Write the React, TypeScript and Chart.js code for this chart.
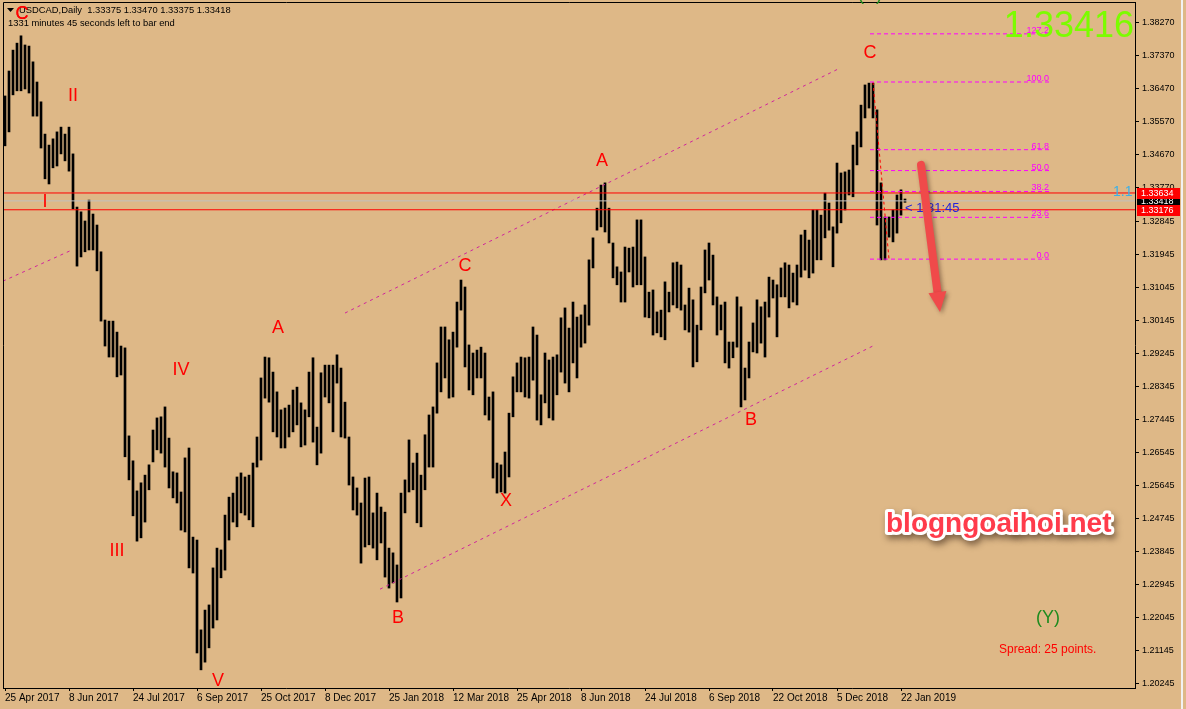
import React, { useEffect, useRef } from 'react';
import { Chart, registerables } from 'chart.js';

Chart.register(...registerables);

// ---------------- data ----------------
// each bar = two trading days (high / low), USDCAD daily, Apr 2017 - Jan 2019
const dateLabels = [
  '25 Apr 2017', '8 Jun 2017', '24 Jul 2017', '6 Sep 2017', '25 Oct 2017', '8 Dec 2017',
  '25 Jan 2018', '12 Mar 2018', '25 Apr 2018', '8 Jun 2018', '24 Jul 2018', '6 Sep 2018',
  '22 Oct 2018', '5 Dec 2018', '22 Jan 2019',
];
const barsPerLabel = 16;

const highs = [
  1.3628, 1.3696, 1.3753, 1.3772, 1.3792, 1.3767, 1.3764, 1.3721, 1.3666, 1.3612,
  1.3524, 1.3494, 1.3511, 1.3530, 1.3543, 1.3524, 1.3543, 1.3470, 1.3325, 1.3312,
  1.3287, 1.3344, 1.3306, 1.3276, 1.3203, 1.3017, 1.3014, 1.3014, 1.2984, 1.2946,
  1.2941, 1.2701, 1.2633, 1.2551, 1.2573, 1.2594, 1.2622, 1.2717, 1.2750, 1.2753,
  1.2780, 1.2695, 1.2603, 1.2600, 1.2548, 1.2641, 1.2668, 1.2425, 1.2417, 1.2172,
  1.2226, 1.2240, 1.2341, 1.2395, 1.2390, 1.2485, 1.2534, 1.2545, 1.2589, 1.2600,
  1.2589, 1.2594, 1.2627, 1.2698, 1.2859, 1.2916, 1.2914, 1.2875, 1.2821, 1.2772,
  1.2777, 1.2785, 1.2826, 1.2834, 1.2791, 1.2772, 1.2875, 1.2914, 1.2725, 1.2873,
  1.2894, 1.2894, 1.2894, 1.2922, 1.2886, 1.2793, 1.2698, 1.2589, 1.2559, 1.2518,
  1.2586, 1.2589, 1.2491, 1.2545, 1.2507, 1.2493, 1.2395, 1.2382, 1.2349, 1.2545,
  1.2581, 1.2690, 1.2627, 1.2654, 1.2594, 1.2704, 1.2758, 1.2780, 1.2900, 1.2998,
  1.2998, 1.2963, 1.2984, 1.3066, 1.3126, 1.3107, 1.2949, 1.2927, 1.2935, 1.2943,
  1.2927, 1.2807, 1.2821, 1.2627, 1.2622, 1.2657, 1.2763, 1.2862, 1.2900, 1.2916,
  1.2914, 1.2916, 1.2998, 1.2976, 1.2813, 1.2927, 1.2908, 1.2916, 1.2922, 1.3023,
  1.3050, 1.2995, 1.3066, 1.3025, 1.3031, 1.3058, 1.3181, 1.3241, 1.3322, 1.3385,
  1.3391, 1.3322, 1.3227, 1.3162, 1.3148, 1.3216, 1.3213, 1.3216, 1.3290, 1.3290,
  1.3189, 1.3093, 1.3099, 1.3039, 1.3044, 1.3121, 1.3093, 1.3173, 1.3175, 1.3167,
  1.3058, 1.3104, 1.3072, 1.3003, 1.3107, 1.3208, 1.3227, 1.3194, 1.3080, 1.3058,
  1.3066, 1.2957, 1.2957, 1.3080, 1.3053, 1.2886, 1.2957, 1.3009, 1.3072, 1.3053,
  1.3066, 1.3134, 1.3126, 1.3113, 1.3159, 1.3173, 1.3167, 1.3145, 1.3167, 1.3249,
  1.3262, 1.3235, 1.3317, 1.3317, 1.3303, 1.3363, 1.3336, 1.3271, 1.3445, 1.3418,
  1.3421, 1.3426, 1.3494, 1.3530, 1.3603, 1.3658, 1.3663, 1.3663, 1.3590, 1.3391,
  1.3298, 1.3298, 1.3317, 1.3358, 1.3372, 1.3347,
];

const lows = [
  1.3492, 1.3530, 1.3631, 1.3642, 1.3642, 1.3647, 1.3636, 1.3573, 1.3573, 1.3486,
  1.3402, 1.3388, 1.3432, 1.3437, 1.3470, 1.3451, 1.3423, 1.3320, 1.3164, 1.3189,
  1.3203, 1.3208, 1.3208, 1.3151, 1.3014, 1.2946, 1.2916, 1.2916, 1.2862, 1.2867,
  1.2644, 1.2581, 1.2483, 1.2414, 1.2423, 1.2466, 1.2554, 1.2630, 1.2663, 1.2654,
  1.2616, 1.2559, 1.2532, 1.2518, 1.2444, 1.2439, 1.2341, 1.2327, 1.2109, 1.2063,
  1.2084, 1.2123, 1.2177, 1.2199, 1.2314, 1.2335, 1.2417, 1.2466, 1.2453, 1.2491,
  1.2485, 1.2472, 1.2453, 1.2616, 1.2635, 1.2804, 1.2793, 1.2712, 1.2698, 1.2668,
  1.2668, 1.2698, 1.2712, 1.2731, 1.2671, 1.2676, 1.2753, 1.2684, 1.2622, 1.2654,
  1.2807, 1.2791, 1.2712, 1.2845, 1.2698, 1.2695, 1.2567, 1.2499, 1.2485, 1.2354,
  1.2398, 1.2404, 1.2395, 1.2363, 1.2409, 1.2316, 1.2286, 1.2300, 1.2248, 1.2259,
  1.2491, 1.2548, 1.2554, 1.2464, 1.2453, 1.2554, 1.2616, 1.2616, 1.2763, 1.2821,
  1.2859, 1.2804, 1.2807, 1.2943, 1.3044, 1.2889, 1.2826, 1.2813, 1.2859, 1.2859,
  1.2758, 1.2744, 1.2586, 1.2545, 1.2548, 1.2545, 1.2589, 1.2753, 1.2821, 1.2821,
  1.2807, 1.2804, 1.2853, 1.2744, 1.2731, 1.2791, 1.2750, 1.2744, 1.2813, 1.2875,
  1.2845, 1.2821, 1.2900, 1.2859, 1.2943, 1.2954, 1.3003, 1.3159, 1.3262, 1.3271,
  1.3257, 1.3227, 1.3132, 1.3113, 1.3066, 1.3066, 1.3148, 1.3107, 1.3113, 1.3113,
  1.3025, 1.3023, 1.2976, 1.2982, 1.2971, 1.2963, 1.3039, 1.3058, 1.3050, 1.3044,
  1.2990, 1.2984, 1.2889, 1.2903, 1.2990, 1.3091, 1.3126, 1.3058, 1.2976, 1.2990,
  1.2900, 1.2886, 1.2914, 1.2943, 1.2780, 1.2799, 1.2859, 1.2930, 1.2927, 1.2954,
  1.2916, 1.3025, 1.3077, 1.2971, 1.3080, 1.3080, 1.3050, 1.3066, 1.3058, 1.3134,
  1.3153, 1.3132, 1.3145, 1.3181, 1.3181, 1.3241, 1.3262, 1.3162, 1.3254, 1.3282,
  1.3317, 1.3358, 1.3353, 1.3440, 1.3489, 1.3568, 1.3595, 1.3568, 1.3276, 1.3181,
  1.3181, 1.3243, 1.3230, 1.3254, 1.3303, 1.3338,
];

const priceTicks = [
  1.3827, 1.3737, 1.3647, 1.3557, 1.3467, 1.3377, 1.32845, 1.31945, 1.31045, 1.30145,
  1.29245, 1.28345, 1.27445, 1.26545, 1.25645, 1.24745, 1.23845, 1.22945, 1.22045,
  1.21145, 1.20245,
];
const yMin = 1.20135;
const yMax = 1.38842;
const xMin = -0.5;
const xMax = 282.5;

const resistanceLevel = 1.33634;
const supportLevel = 1.33176;
const bidLevel = 1.33418;

const fibHigh = 1.3666;
const fibLow = 1.3183;
const fibLevels = [0, 23.6, 38.2, 50, 61.8, 100, 127.2];
const fibLabels = ['0.0', '23.6', '38.2', '50.0', '61.8', '100.0', '127.2'];
const fibStart = 216.25;
const fibEnd = 261;
const fibTrend = [{ x: 217, y: fibHigh }, { x: 221, y: fibLow }];

const channelUpper = [{ x: 85, y: 1.3036 }, { x: 208.75, y: 1.3704 }];
const channelLower = [{ x: 93.75, y: 1.2283 }, { x: 217.5, y: 1.2949 }];
const channelLeft = [{ x: -0.5, y: 1.3123 }, { x: 16.75, y: 1.3208 }];

const waveLabels = [
  { t: 'C', x: 4.25, y: 1.3852 },
  { t: 'II', x: 17, y: 1.3628 },
  { t: 'I', x: 10, y: 1.3339 },
  { t: 'III', x: 28, y: 1.2387 },
  { t: 'IV', x: 44, y: 1.2881 },
  { t: 'V', x: 53.25, y: 1.2033 },
  { t: 'A', x: 68.25, y: 1.2995 },
  { t: 'C', x: 115, y: 1.3164 },
  { t: 'B', x: 98.25, y: 1.2204 },
  { t: 'X', x: 125.25, y: 1.2524 },
  { t: 'A', x: 149.25, y: 1.3451 },
  { t: 'B', x: 186.5, y: 1.2744 },
  { t: 'C', x: 216.25, y: 1.3745 },
];

const arrowFrom = { x: 229, y: 1.344 };
const arrowTo = { x: 233.75, y: 1.3039 };

const BG = '#DEB887';
const FONT = '"Liberation Sans", Arial, sans-serif';

function lineDs(data: { x: number; y: number }[], color: string, dash: number[]) {
  return {
    type: 'line' as const,
    data,
    borderColor: color,
    borderWidth: 1,
    borderDash: dash,
    pointRadius: 0,
    fill: false,
    tension: 0,
    order: 0,
  };
}

const overlayPlugin = {
  id: 'mtOverlay',
  beforeDraw(chart: any) {
    const ctx = chart.ctx;
    ctx.save();
    ctx.fillStyle = BG;
    ctx.fillRect(0, 0, chart.width, chart.height);
    ctx.restore();
  },
  afterDraw(chart: any) {
    const ctx: CanvasRenderingContext2D = chart.ctx;
    const xs = chart.scales.x;
    const ys = chart.scales.y;
    const ca = chart.chartArea;
    ctx.save();

    // frame
    ctx.strokeStyle = '#000';
    ctx.lineWidth = 1;
    ctx.beginPath();
    ctx.moveTo(ca.left + 0.5, ca.bottom);
    ctx.lineTo(ca.left + 0.5, ca.top + 0.5);
    ctx.lineTo(ca.right, ca.top + 0.5);
    ctx.stroke();

    // fib labels
    ctx.font = `9px ${FONT}`;
    ctx.fillStyle = '#FF00FF';
    ctx.textAlign = 'right';
    ctx.textBaseline = 'alphabetic';
    fibLevels.forEach((lv, k) => {
      const price = fibLow + (fibHigh - fibLow) * lv / 100;
      const py = ys.getPixelForValue(price);
      ctx.fillText(fibLabels[k], xs.getPixelForValue(fibEnd), py - 1);
    });

    // wave labels
    ctx.font = `18px ${FONT}`;
    ctx.fillStyle = '#FF0000';
    ctx.textAlign = 'center';
    ctx.textBaseline = 'middle';
    waveLabels.forEach((w) => {
      ctx.fillText(w.t, xs.getPixelForValue(w.x), ys.getPixelForValue(w.y));
    });

    // top partial (X)
    ctx.fillStyle = '#1E8B1E';
    ctx.fillText('(X)', 870, -5);

    // header texts
    ctx.fillStyle = '#000';
    ctx.beginPath();
    ctx.moveTo(7, 8);
    ctx.lineTo(14, 8);
    ctx.lineTo(10.5, 12);
    ctx.closePath();
    ctx.fill();
    ctx.font = `9.4px ${FONT}`;
    ctx.textAlign = 'left';
    ctx.textBaseline = 'alphabetic';
    ctx.fillText('USDCAD,Daily  1.33375 1.33470 1.33375 1.33418', 19, 13);
    ctx.fillText('1331 minutes 45 seconds left to bar end', 8, 26);

    // the top-left C sits over the header
    ctx.font = `18px ${FONT}`;
    ctx.fillStyle = '#FF0000';
    ctx.textAlign = 'center';
    ctx.textBaseline = 'middle';
    ctx.fillText('C', xs.getPixelForValue(waveLabels[0].x), ys.getPixelForValue(waveLabels[0].y));

    // big bid price
    ctx.font = `36px ${FONT}`;
    ctx.fillStyle = '#7CFC00';
    ctx.textAlign = 'right';
    ctx.textBaseline = 'alphabetic';
    ctx.fillText('1.33416', 1134, 37);

    // countdown text near last bar
    ctx.font = `13px ${FONT}`;
    ctx.fillStyle = '#2222DD';
    ctx.textAlign = 'left';
    ctx.textBaseline = 'middle';
    ctx.fillText('< 1:31:45', 905, 208);

    // cyan 1.1
    ctx.font = `14px ${FONT}`;
    ctx.fillStyle = '#3AB0EA';
    ctx.fillText('1.1', 1113, 192);

    // arrow
    const ax0 = xs.getPixelForValue(arrowFrom.x);
    const ay0 = ys.getPixelForValue(arrowFrom.y);
    const ax1 = xs.getPixelForValue(arrowTo.x);
    const ay1 = ys.getPixelForValue(arrowTo.y);
    const ang = Math.atan2(ay1 - ay0, ax1 - ax0);
    const headLen = 20;
    const bx = ax1 - headLen * Math.cos(ang);
    const by = ay1 - headLen * Math.sin(ang);
    ctx.save();
    ctx.shadowColor = 'rgba(60,30,20,0.45)';
    ctx.shadowBlur = 4;
    ctx.shadowOffsetX = 2;
    ctx.shadowOffsetY = 2;
    ctx.strokeStyle = '#F04A4A';
    ctx.fillStyle = '#F04A4A';
    ctx.lineWidth = 8;
    ctx.lineCap = 'round';
    ctx.beginPath();
    ctx.moveTo(ax0, ay0);
    ctx.lineTo(bx, by);
    ctx.stroke();
    const px = -Math.sin(ang);
    const py = Math.cos(ang);
    ctx.beginPath();
    ctx.moveTo(ax1, ay1);
    ctx.lineTo(bx + px * 9, by + py * 9);
    ctx.lineTo(bx - px * 9, by - py * 9);
    ctx.closePath();
    ctx.fill();
    ctx.restore();

    // blog watermark
    ctx.save();
    ctx.font = `bold 28px ${FONT}`;
    ctx.textAlign = 'left';
    ctx.textBaseline = 'alphabetic';
    ctx.lineJoin = 'round';
    ctx.shadowColor = 'rgba(40,20,10,0.5)';
    ctx.shadowBlur = 6;
    ctx.shadowOffsetX = 2;
    ctx.shadowOffsetY = 4;
    ctx.strokeStyle = '#FFFFFF';
    ctx.lineWidth = 6;
    ctx.strokeText('blogngoaihoi.net', 886, 532);
    ctx.shadowColor = 'transparent';
    ctx.fillStyle = '#FF3B4B';
    ctx.fillText('blogngoaihoi.net', 886, 532);
    ctx.restore();

    // (Y) and spread
    ctx.font = `18px ${FONT}`;
    ctx.fillStyle = '#1E8B1E';
    ctx.textAlign = 'center';
    ctx.textBaseline = 'middle';
    ctx.fillText('(Y)', 1048, 618);
    ctx.font = `12px ${FONT}`;
    ctx.fillStyle = '#FF0000';
    ctx.textAlign = 'left';
    ctx.textBaseline = 'alphabetic';
    ctx.fillText('Spread: 25 points.', 999, 653);

    // right-axis price markers
    const marker = (price: number, bg: string) => {
      const my = Math.round(ys.getPixelForValue(price));
      ctx.fillStyle = bg;
      ctx.fillRect(ca.right + 2, my - 5, 43, 11);
      ctx.fillStyle = '#FFFFFF';
      ctx.font = `9px ${FONT}`;
      ctx.textAlign = 'left';
      ctx.textBaseline = 'middle';
      ctx.fillText(price.toFixed(5), ca.right + 6, my + 0.5);
    };
    marker(bidLevel, '#000000');
    marker(resistanceLevel, '#FF0000');
    marker(supportLevel, '#FF0000');

    // window edge
    ctx.fillStyle = '#F2F2F2';
    ctx.fillRect(1181, 0, 2, chart.height);

    ctx.restore();
  },
};

export default function App() {
  const ref = useRef<HTMLCanvasElement | null>(null);

  useEffect(() => {
    if (!ref.current) return;
    Chart.defaults.font.family = FONT;
    const bars = highs.map((h, k) => ({ x: k, y: [lows[k], h] }));
    const fibLines = fibLevels.map((lv) => {
      const price = fibLow + (fibHigh - fibLow) * lv / 100;
      return lineDs([{ x: fibStart, y: price }, { x: fibEnd, y: price }], '#FF00FF', [4, 3]);
    });
    const chart = new Chart(ref.current, {
      type: 'bar',
      data: {
        datasets: [
          lineDs([{ x: xMin, y: resistanceLevel }, { x: xMax, y: resistanceLevel }], '#FF0000', []),
          lineDs([{ x: xMin, y: supportLevel }, { x: xMax, y: supportLevel }], '#FF0000', []),
          lineDs([{ x: xMin, y: bidLevel }, { x: xMax, y: bidLevel }], '#C0C0C0', []),
          ...fibLines,
          lineDs(fibTrend, '#FF0000', [3, 3]),
          lineDs(channelUpper, '#D0249C', [3, 4]),
          lineDs(channelLower, '#D0249C', [3, 4]),
          lineDs(channelLeft, '#D0249C', [3, 4]),
          {
            type: 'bar' as const,
            data: bars as any,
            backgroundColor: '#000000',
            borderWidth: 0,
            barThickness: 2,
            grouped: false,
            order: 10,
          },
        ] as any,
      },
      options: {
        animation: false,
        responsive: false,
        devicePixelRatio: 1,
        events: [],
        layout: { padding: { left: 3, top: 2, right: 0, bottom: 0 } },
        plugins: { legend: { display: false }, tooltip: { enabled: false } },
        scales: {
          x: {
            type: 'linear',
            position: 'bottom',
            min: xMin,
            max: xMax,
            offset: false,
            afterBuildTicks: (s: any) => {
              s.ticks = dateLabels.map((_, j) => ({ value: j * barsPerLabel }));
            },
            afterFit: (s: any) => {
              s.height = 21;
              s.paddingLeft = 0;
              s.paddingRight = 0;
              s.paddingTop = 0;
              s.paddingBottom = 0;
            },
            ticks: {
              callback: (v: any) => dateLabels[Math.round(Number(v) / barsPerLabel)] ?? '',
              align: 'start',
              maxRotation: 0,
              minRotation: 0,
              autoSkip: false,
              color: '#000',
              font: { size: 10, family: FONT },
              padding: 1,
            },
            grid: { drawOnChartArea: false, drawTicks: true, tickLength: 3, color: '#000', offset: false },
            border: { display: true, color: '#000' },
          },
          y: {
            type: 'linear',
            position: 'right',
            min: yMin,
            max: yMax,
            afterBuildTicks: (s: any) => {
              s.ticks = priceTicks.map((v) => ({ value: v }));
            },
            afterFit: (s: any) => {
              s.width = 51;
              s.paddingTop = 0;
              s.paddingBottom = 0;
              s.paddingLeft = 0;
              s.paddingRight = 0;
            },
            ticks: {
              callback: (v: any) => Number(v).toFixed(5),
              color: '#000',
              font: { size: 9, family: FONT },
              padding: 3,
            },
            grid: { drawOnChartArea: false, drawTicks: true, tickLength: 4, color: '#000' },
            border: { display: true, color: '#000' },
          },
        },
      } as any,
      plugins: [overlayPlugin],
    });
    return () => chart.destroy();
  }, []);

  return (
    <div style={{ position: 'fixed', left: 0, top: 0, width: 1186, height: 709, background: BG }}>
      <canvas ref={ref} width={1186} height={709} style={{ display: 'block', width: 1186, height: 709 }} />
    </div>
  );
}
